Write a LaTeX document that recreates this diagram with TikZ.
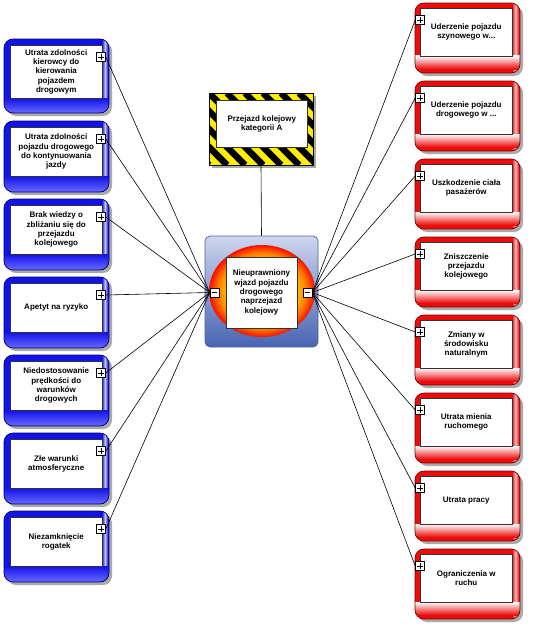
\documentclass[tikz,border=0pt]{standalone}
\usepackage{fontspec}
\setmainfont{Liberation Sans}
\usetikzlibrary{shapes.geometric}
\definecolor{bluefill}{RGB}{18,18,235}
\definecolor{bluelight}{RGB}{105,105,255}
\definecolor{bluestreak}{RGB}{200,200,255}
\definecolor{blueborder}{RGB}{0,0,100}
\definecolor{redfill}{RGB}{235,12,12}
\definecolor{redstreak}{RGB}{255,190,190}
\definecolor{redborder}{RGB}{120,0,0}
\definecolor{shadowc}{RGB}{170,170,170}
\definecolor{ctrtop}{RGB}{205,214,238}
\definecolor{ctrbot}{RGB}{72,100,178}
\definecolor{ctrborder}{RGB}{80,100,150}
\definecolor{hazyellow}{RGB}{255,238,0}
\definecolor{ballA}{RGB}{255,210,0}
\definecolor{ballB}{RGB}{255,170,0}
\definecolor{ballC}{RGB}{255,120,0}
\definecolor{ballD}{RGB}{255,50,0}
\definecolor{ballE}{RGB}{240,20,0}
\pgfdeclareradialshading{ballshade}{\pgfpointorigin}{color(0bp)=(ballA); color(18bp)=(ballB); color(21bp)=(ballC); color(23.5bp)=(ballD); color(25bp)=(ballE); color(50bp)=(ballE)}
\tikzset{
  conn/.style={draw=black, line width=0.6pt},
  whitebox/.style={draw=black!80, line width=0.5pt, fill=white, inner sep=1pt, align=center,
    font=\bfseries\fontsize{8}{9.3}\selectfont, anchor=north west},
  pmbox/.style={draw=black, fill=white, line width=0.6pt, minimum size=9pt, inner sep=0pt},
  plusbox/.style={pmbox, path picture={\draw[line width=0.8pt]
      ([xshift=-2.6pt]path picture bounding box.center) -- ([xshift=2.6pt]path picture bounding box.center)
      ([yshift=-2.6pt]path picture bounding box.center) -- ([yshift=2.6pt]path picture bounding box.center);}},
  minusbox/.style={pmbox, path picture={\draw[line width=0.8pt]
      ([xshift=-2.6pt]path picture bounding box.center) -- ([xshift=2.6pt]path picture bounding box.center);}},
}
% name, top, outer height, white height, text
\newcommand{\bluecause}[5]{%
  \fill[shadowc, rounded corners=9pt] (7,#2+3) rectangle (112,#2+#3+3);
  \begin{scope}
    \clip[rounded corners=9pt] (4,#2) rectangle (109,#2+#3);
    \fill[bluefill] (4,#2) rectangle (109,#2+#3);
    \shade[left color=bluefill, right color=bluefill, middle color=bluestreak] (102,#2) rectangle (108,#2+#3);
    \shade[top color=bluefill, bottom color=bluelight] (4,#2+6+#4) rectangle (109,#2+#3);
  \end{scope}
  \draw[blueborder, line width=0.7pt, rounded corners=9pt] (4,#2) rectangle (109,#2+#3);
  \node[whitebox, minimum width=92pt, minimum height=#4pt] (#1) at (10,#2+6) {#5};
  \node[plusbox] (#1p) at (101,#2+18) {};
}
% name, top, text
\newcommand{\redcause}[3]{%
  \fill[shadowc, rounded corners=9pt] (418,#2+3) rectangle (523,#2+73);
  \begin{scope}
    \clip[rounded corners=9pt] (415,#2) rectangle (520,#2+70);
    \fill[redfill] (415,#2) rectangle (520,#2+70);
    \shade[left color=redfill, right color=redfill, middle color=redstreak] (512,#2) rectangle (519,#2+70);
    \shade[top color=white, bottom color=redfill] (415,#2+53) rectangle (520,#2+66);
  \end{scope}
  \draw[redborder, line width=0.7pt, rounded corners=9pt] (415,#2) rectangle (520,#2+70);
  \node[whitebox, minimum width=92pt, minimum height=48pt] (#1) at (420,#2+5) {#3};
  \node[plusbox] (#1p) at (420,#2+17) {};
}
\begin{document}
\begin{tikzpicture}[x=1pt, y=-1pt]
\useasboundingbox[fill=white] (0,0) rectangle (543,634);

% centre
\node[draw=ctrborder, line width=0.7pt, rounded corners=5pt, top color=ctrtop, bottom color=ctrbot,
      minimum width=113pt, minimum height=111pt, inner sep=0pt] (ctr) at (261.5,291.5) {};
\node[ellipse, minimum width=106pt, minimum height=92pt, inner sep=0pt, shading=ballshade] (ball) at (262,291) {};
\node[whitebox, anchor=center, minimum width=71pt, minimum height=71pt] (main) at (261.5,292.5)
  {Nieuprawniony\\wjazd pojazdu\\drogowego\\naprzejazd\\kolejowy};

% hazard box
\fill[shadowc] (212,96) rectangle (316,168);
\fill[hazyellow] (209,93) rectangle (313,165);
\begin{scope}
  \clip (209,93) rectangle (313,165);
  \foreach \k in {-5,...,7} \draw[line width=6.5pt] (209+18*\k,93) -- (281+18*\k,165);
\end{scope}
\draw[black, line width=0.7pt] (209,93) rectangle (313,165);
\node[whitebox, minimum width=91pt, minimum height=47pt] (haz) at (216,100) {Przejazd kolejowy\\kategorii A};
\coordinate (hazb) at (261,165);
\draw[conn] (hazb) -- (ctr.north);

% left causes
\bluecause{L1}{39}{74}{53}{Utrata zdolności\\kierowcy do\\kierowania\\pojazdem\\drogowym}
\bluecause{L2}{121}{71}{49}{Utrata zdolności\\pojazdu drogowego\\do kontynuowania\\jazdy}
\bluecause{L3}{199}{71}{49}{Brak wiedzy o\\zbliżaniu się do\\przejazdu\\kolejowego}
\bluecause{L4}{277}{71}{49}{Apetyt na ryzyko}
\bluecause{L5}{355}{71}{49}{Niedostosowanie\\prędkości do\\warunków\\drogowych}
\bluecause{L6}{433}{71}{49}{Złe warunki\\atmosferyczne}
\bluecause{L7}{511}{71}{49}{Niezamknięcie\\rogatek}

% right effects
\redcause{R1}{3}{Uderzenie pojazdu\\szynowego w...}
\redcause{R2}{81}{Uderzenie pojazdu\\drogowego w ...}
\redcause{R3}{159}{Uszkodzenie ciała\\pasażerów}
\redcause{R4}{237}{Zniszczenie\\przejazdu\\kolejowego}
\redcause{R5}{315}{Zmiany w\\środowisku\\naturalnym}
\redcause{R6}{393}{Utrata mienia\\ruchomego}
\redcause{R7}{471}{Utrata pracy}
\redcause{R8}{549}{Ograniczenia w\\ruchu}

% minus boxes
\node[minusbox] (mL) at (214.5,292.5) {};
\node[minusbox] (mR) at (307.5,292.5) {};

% connectors
\foreach \i in {1,...,7} \draw[conn] (L\i p.east) -- (mL.west);
\foreach \i in {1,...,8} \draw[conn] (mR.east) -- (R\i p.west);
\end{tikzpicture}
\end{document}
